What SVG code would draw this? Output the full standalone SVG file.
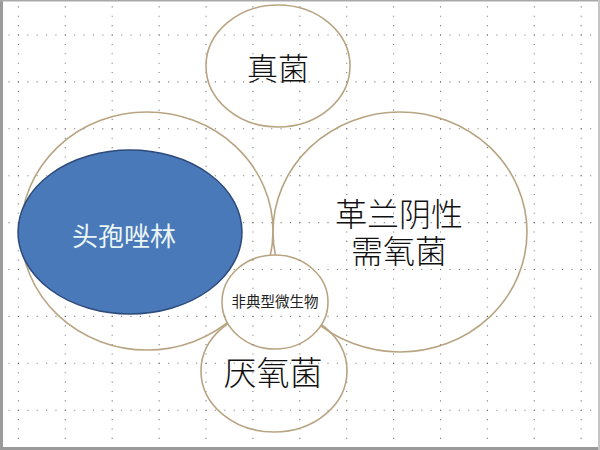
<svg xmlns="http://www.w3.org/2000/svg" xmlns:xlink="http://www.w3.org/1999/xlink" width="600" height="450" viewBox="0 0 600 450">
  <style>
    .gv { stroke: #555; stroke-width: 1.1; stroke-dasharray: 1.1 8.28; stroke-dashoffset: 0; opacity: 0.75; }
    .ring { fill: none; stroke: #b9a482; stroke-width: 1.6; }
    .cn { font-family: "Liberation Serif", "Noto Sans CJK SC", serif; font-weight: 300; fill: #111; text-anchor: middle; }
    .cs { font-family: "Liberation Sans", "Noto Sans CJK SC", sans-serif; text-anchor: middle; }
  </style>
  <defs>
    <g id="grid">
      <path class="gv" d="M18.4,-12.4V450 M65.3,-12.4V450 M112.2,-12.4V450 M159.1,-12.4V450 M206,-12.4V450 M252.9,-12.4V450 M299.8,-12.4V450 M346.7,-12.4V450 M393.6,-12.4V450 M440.5,-12.4V450 M487.4,-12.4V450 M534.3,-12.4V450 M581.2,-12.4V450"/>
      <path class="gv" d="M-29,35H600 M-29,81.9H600 M-29,128.8H600 M-29,175.7H600 M-29,222.6H600 M-29,269.5H600 M-29,316.4H600 M-29,363.3H600 M-29,410.2H600"/>
    </g>
    <clipPath id="smallClip">
      <ellipse cx="275" cy="302" rx="53" ry="47"/>
    </clipPath>
  </defs>
  <rect x="0" y="0" width="600" height="450" fill="#ffffff"/>
  <use xlink:href="#grid"/>

  <g id="node-fungi">
    <ellipse class="ring" cx="278" cy="66" rx="72" ry="61"/>
    <text class="cn" x="278" y="80" font-size="31">真菌</text>
  </g>
  <g id="node-gram-negative">
    <ellipse class="ring" cx="400" cy="232" rx="127" ry="120"/>
    <text class="cn" x="399" y="226" font-size="32">革兰阴性</text>
    <text class="cn" x="399" y="263" font-size="32">需氧菌</text>
  </g>
  <g id="node-left-ring">
    <ellipse class="ring" cx="147" cy="231" rx="126" ry="119"/>
  </g>
  <g id="node-cefazolin">
    <ellipse cx="130" cy="232" rx="112" ry="82" fill="#4a79b9" stroke="#2c4a7a" stroke-width="1.5"/>
    <text class="cs" x="124" y="246" font-size="26" fill="#e9f5f4">头孢唑林</text>
  </g>
  <g id="node-anaerobes">
    <ellipse class="ring" cx="274" cy="371" rx="73" ry="61"/>
    <text class="cn" x="273" y="385" font-size="33">厌氧菌</text>
  </g>
  <g id="node-atypical">
    <ellipse cx="275" cy="302" rx="53" ry="47" fill="#ffffff" stroke="#b9a482" stroke-width="1.6"/>
    <use xlink:href="#grid" clip-path="url(#smallClip)"/>
    <text class="cs" x="275" y="307" font-size="14.5" fill="#222">非典型微生物</text>
  </g>
  <g id="connectors"></g>

  <g id="frame" fill="none">
    <line x1="1.5" y1="0" x2="1.5" y2="450" stroke="#9a9a9a" stroke-width="3"/>
    <line x1="0" y1="0.8" x2="600" y2="0.8" stroke="#a8a8a8" stroke-width="1.6"/>
    <line x1="0" y1="448.5" x2="600" y2="448.5" stroke="#9a9a9a" stroke-width="3"/>
    <line x1="599" y1="0" x2="599" y2="450" stroke="#c4c4c4" stroke-width="2"/>
  </g>
</svg>
